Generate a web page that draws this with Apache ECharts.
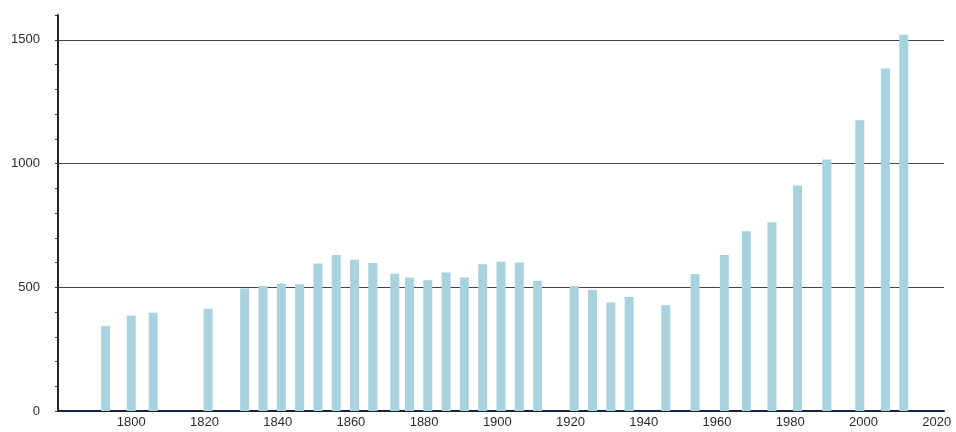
<!DOCTYPE html>
<html>
<head>
<meta charset="utf-8">
<script src="https://cdn.jsdelivr.net/npm/echarts@6/dist/echarts.min.js"></script>
<style>
html,body{margin:0;padding:0;background:#fff;}
#chart{width:956px;height:432px;}
</style>
</head>
<body>
<div id="chart"></div>
<script>
const years = [1793,1800,1806,1821,1831,1836,1841,1846,1851,1856,1861,1866,1872,1876,1881,1886,1891,1896,1901,1906,1911,1921,1926,1931,1936,1946,1954,1962,1968,1975,1982,1990,1999,2006,2011];
const population = [343,386,397,413,495,505,515,512,596,630,611,598,555,539,528,560,539,593,603,600,526,505,489,438,461,427,554,630,726,763,911,1016,1175,1384,1520];
const xTickLabels = [1800,1820,1840,1860,1880,1900,1920,1940,1960,1980,2000,2020];
const yTickLabels = [0,500,1000,1500];

const chart = echarts.init(document.getElementById('chart'), null, {renderer:'canvas'});
const seriesData = years.map((y,i)=>[y, population[i]]);
const clear = 'rgba(0,0,0,0)';
chart.setOption({
  animation:false,
  backgroundColor:'#ffffff',
  textStyle:{fontFamily:'Liberation Sans'},
  grid:{left:58, right:12, top:15, bottom:21, containLabel:false},
  xAxis:{
    type:'value', min:1780, max:2022, interval:20,
    axisLine:{show:true, lineStyle:{color:'#15233c', width:2}},
    axisTick:{show:false},
    splitLine:{show:false},
    axisLabel:{color:'#2a2a2a', fontSize:13, margin:5,
      formatter:v=> xTickLabels.indexOf(v)>=0 ? String(v) : ''}
  },
  yAxis:{
    type:'value', min:0, max:1600, interval:100,
    axisLine:{show:true, lineStyle:{color:'#222', width:2}},
    axisTick:{show:true, length:3, lineStyle:{color:'#333', width:1}},
    axisLabel:{color:'#2a2a2a', fontSize:13, margin:18,
      formatter:v=> yTickLabels.indexOf(v)>=0 ? String(v) : ''},
    splitLine:{show:true, lineStyle:{color:['#444',clear,clear,clear,clear], width:1}}
  },
  series:[{
    type:'bar',
    data:seriesData,
    barWidth:9,
    itemStyle:{color:'#a8d3de'}
  }]
});
</script>
</body>
</html>
